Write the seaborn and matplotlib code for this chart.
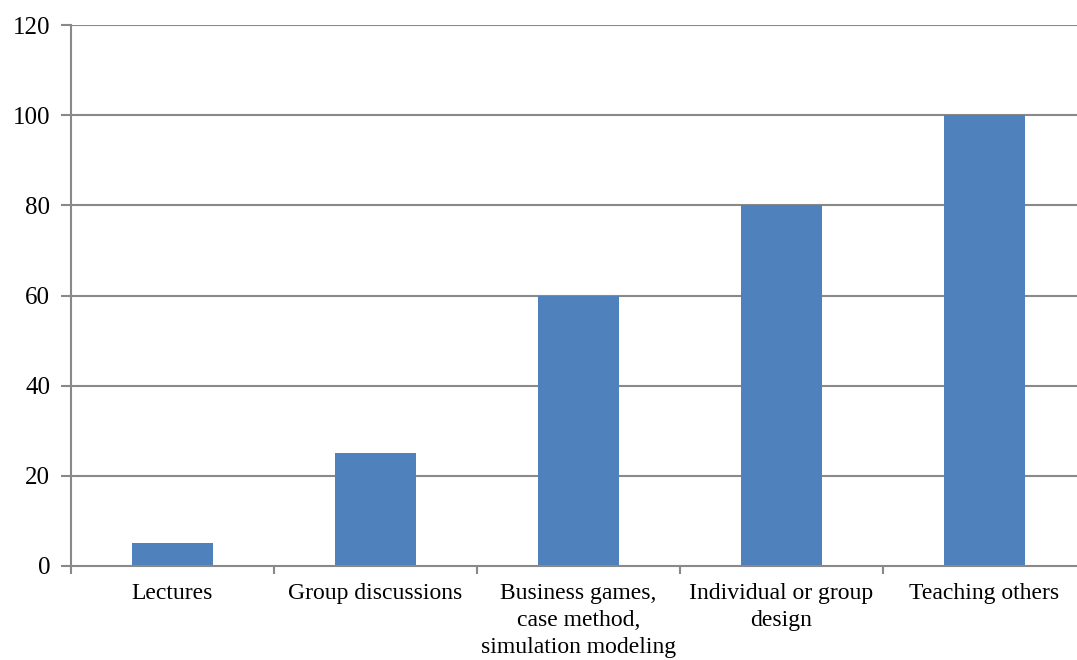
import matplotlib
matplotlib.use("Agg")
import matplotlib.pyplot as plt
import seaborn as sns
import pandas as pd
import numpy as np

categories = ["Lectures", "Group discussions", "Business games,\ncase method,\nsimulation modeling",
              "Individual or group\ndesign", "Teaching others"]
values = [5, 25, 60, 80, 100]
yticks = [0, 20, 40, 60, 80, 100, 120]

sns.set_theme(style="white")
plt.rcParams['font.family'] = ['Liberation Serif', 'DejaVu Serif']

df = pd.DataFrame({"cat": categories, "val": values})

fig = plt.figure(figsize=(10.77, 6.6), dpi=100)
ax = fig.add_axes([71/1077, 94/660, 1015/1077, 541/660])
gray = "#898989"

ax.set_axisbelow(True)
for y in yticks[1:]:
    ax.axhline(y, color=gray, lw=1.5, zorder=0)

sns.barplot(data=df, x="cat", y="val", color="#4F81BD", width=0.4, saturation=1,
            linewidth=0, ax=ax, zorder=2)

ax.set_xlim(-0.5, len(categories) - 0.5)
ax.set_ylim(0, 120)
ax.set_yticks(yticks)
ax.set_yticklabels([str(v) for v in yticks], fontsize=18, color="black")
ax.set_xticks(range(len(categories)))
ax.set_xticklabels(categories, fontsize=17, linespacing=1.38, color="black")
ax.set_xticks(np.arange(-0.5, len(categories), 1.0), minor=True)
ax.tick_params(axis="x", which="major", length=0, pad=12)
ax.tick_params(axis="x", which="minor", length=6, width=1.5, color=gray, direction="out", bottom=True)
ax.tick_params(axis="y", which="major", length=7, width=1.5, color=gray, direction="out", pad=8, left=True)
ax.set_xlabel("")
ax.set_ylabel("")
for s in ["top", "right"]:
    ax.spines[s].set_visible(False)
for s in ["left", "bottom"]:
    ax.spines[s].set_color(gray)
    ax.spines[s].set_linewidth(1.5)

fig.savefig("out.png", dpi=100, facecolor="white")
